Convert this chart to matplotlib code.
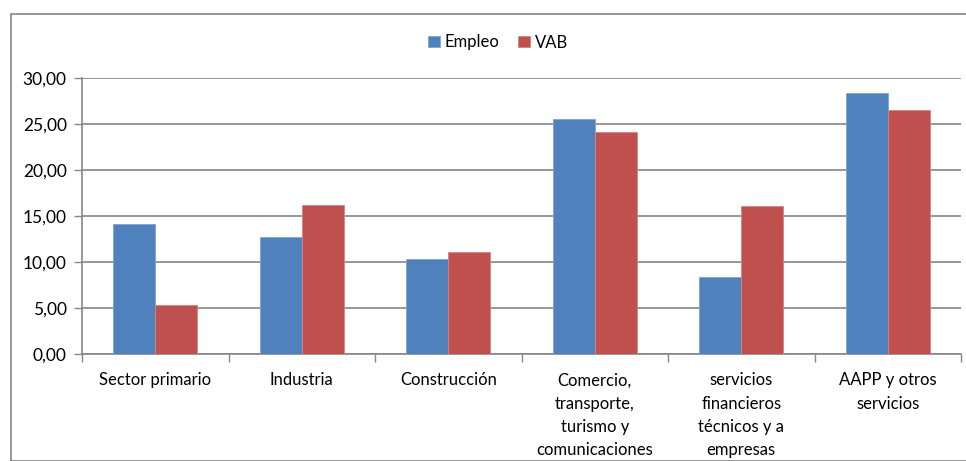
import matplotlib
matplotlib.use("Agg")
import matplotlib.pyplot as plt
import numpy as np
from matplotlib.patches import Rectangle
from matplotlib.ticker import FuncFormatter

categories = ["Sector primario", "Industria", "Construcción",
              "Comercio,\ntransporte,\nturismo y\ncomunicaciones",
              "servicios\nfinancieros\ntécnicos y a\nempresas",
              "AAPP y otros\nservicios"]
empleo = [14.13, 12.75, 10.37, 25.60, 8.41, 28.37]
vab = [5.33, 16.23, 11.13, 24.13, 16.09, 26.56]
series_names = ["Empleo", "VAB"]
yticks = [0, 5, 10, 15, 20, 25, 30]

plt.rcParams['font.family'] = ['Lato', 'DejaVu Sans']

fig = plt.figure(figsize=(9.66, 4.61), dpi=100)
ax = fig.add_axes([82/966, 1-354.3/461, (961-82)/966, (354.3-78.3)/461])

x = np.arange(len(categories))
w = 0.287
grey = "#868686"
ax.bar(x - w/2, empleo, w, color="#4F81BD", edgecolor="#7FA3D0", linewidth=0.6, label=series_names[0], zorder=3)
ax.bar(x + w/2, vab, w, color="#C0504D", edgecolor="#D58583", linewidth=0.6, label=series_names[1], zorder=3)

ax.set_xlim(-0.5, len(categories) - 0.5)
ax.set_ylim(0, 30)
ax.set_yticks(yticks)
ax.yaxis.set_major_formatter(FuncFormatter(lambda v, p: f"{v:.2f}".replace(".", ",")))
ax.grid(axis="y", color=grey, linewidth=1.2, zorder=0)
ax.set_axisbelow(True)

ax.set_xticks(x)
ax.set_xticklabels(categories, fontsize=12, linespacing=1.55, va="top")
ax.tick_params(axis="x", which="major", length=0, pad=13)
ax.set_xticks(np.arange(-0.5, len(categories), 1), minor=True)
ax.tick_params(axis="x", which="minor", length=6, color=grey, width=1)
ax.tick_params(axis="y", length=6, color=grey, width=1, labelsize=12.5, pad=5)

for s in ["top", "right"]:
    ax.spines[s].set_visible(False)
for s in ["left", "bottom"]:
    ax.spines[s].set_color(grey)
    ax.spines[s].set_linewidth(1.2)

leg = fig.legend(loc="center", bbox_to_anchor=(498/966, 1-42.5/461), ncol=2, frameon=False,
                 fontsize=12, handlelength=0.7, handleheight=0.7, handletextpad=0.3,
                 columnspacing=1.1)

fig.patches.append(Rectangle((10.5/966, 0), 1.2, 1-14.5/461, transform=fig.transFigure,
                             fill=False, edgecolor=grey, linewidth=1.2))

fig.savefig("out.png", dpi=100)
